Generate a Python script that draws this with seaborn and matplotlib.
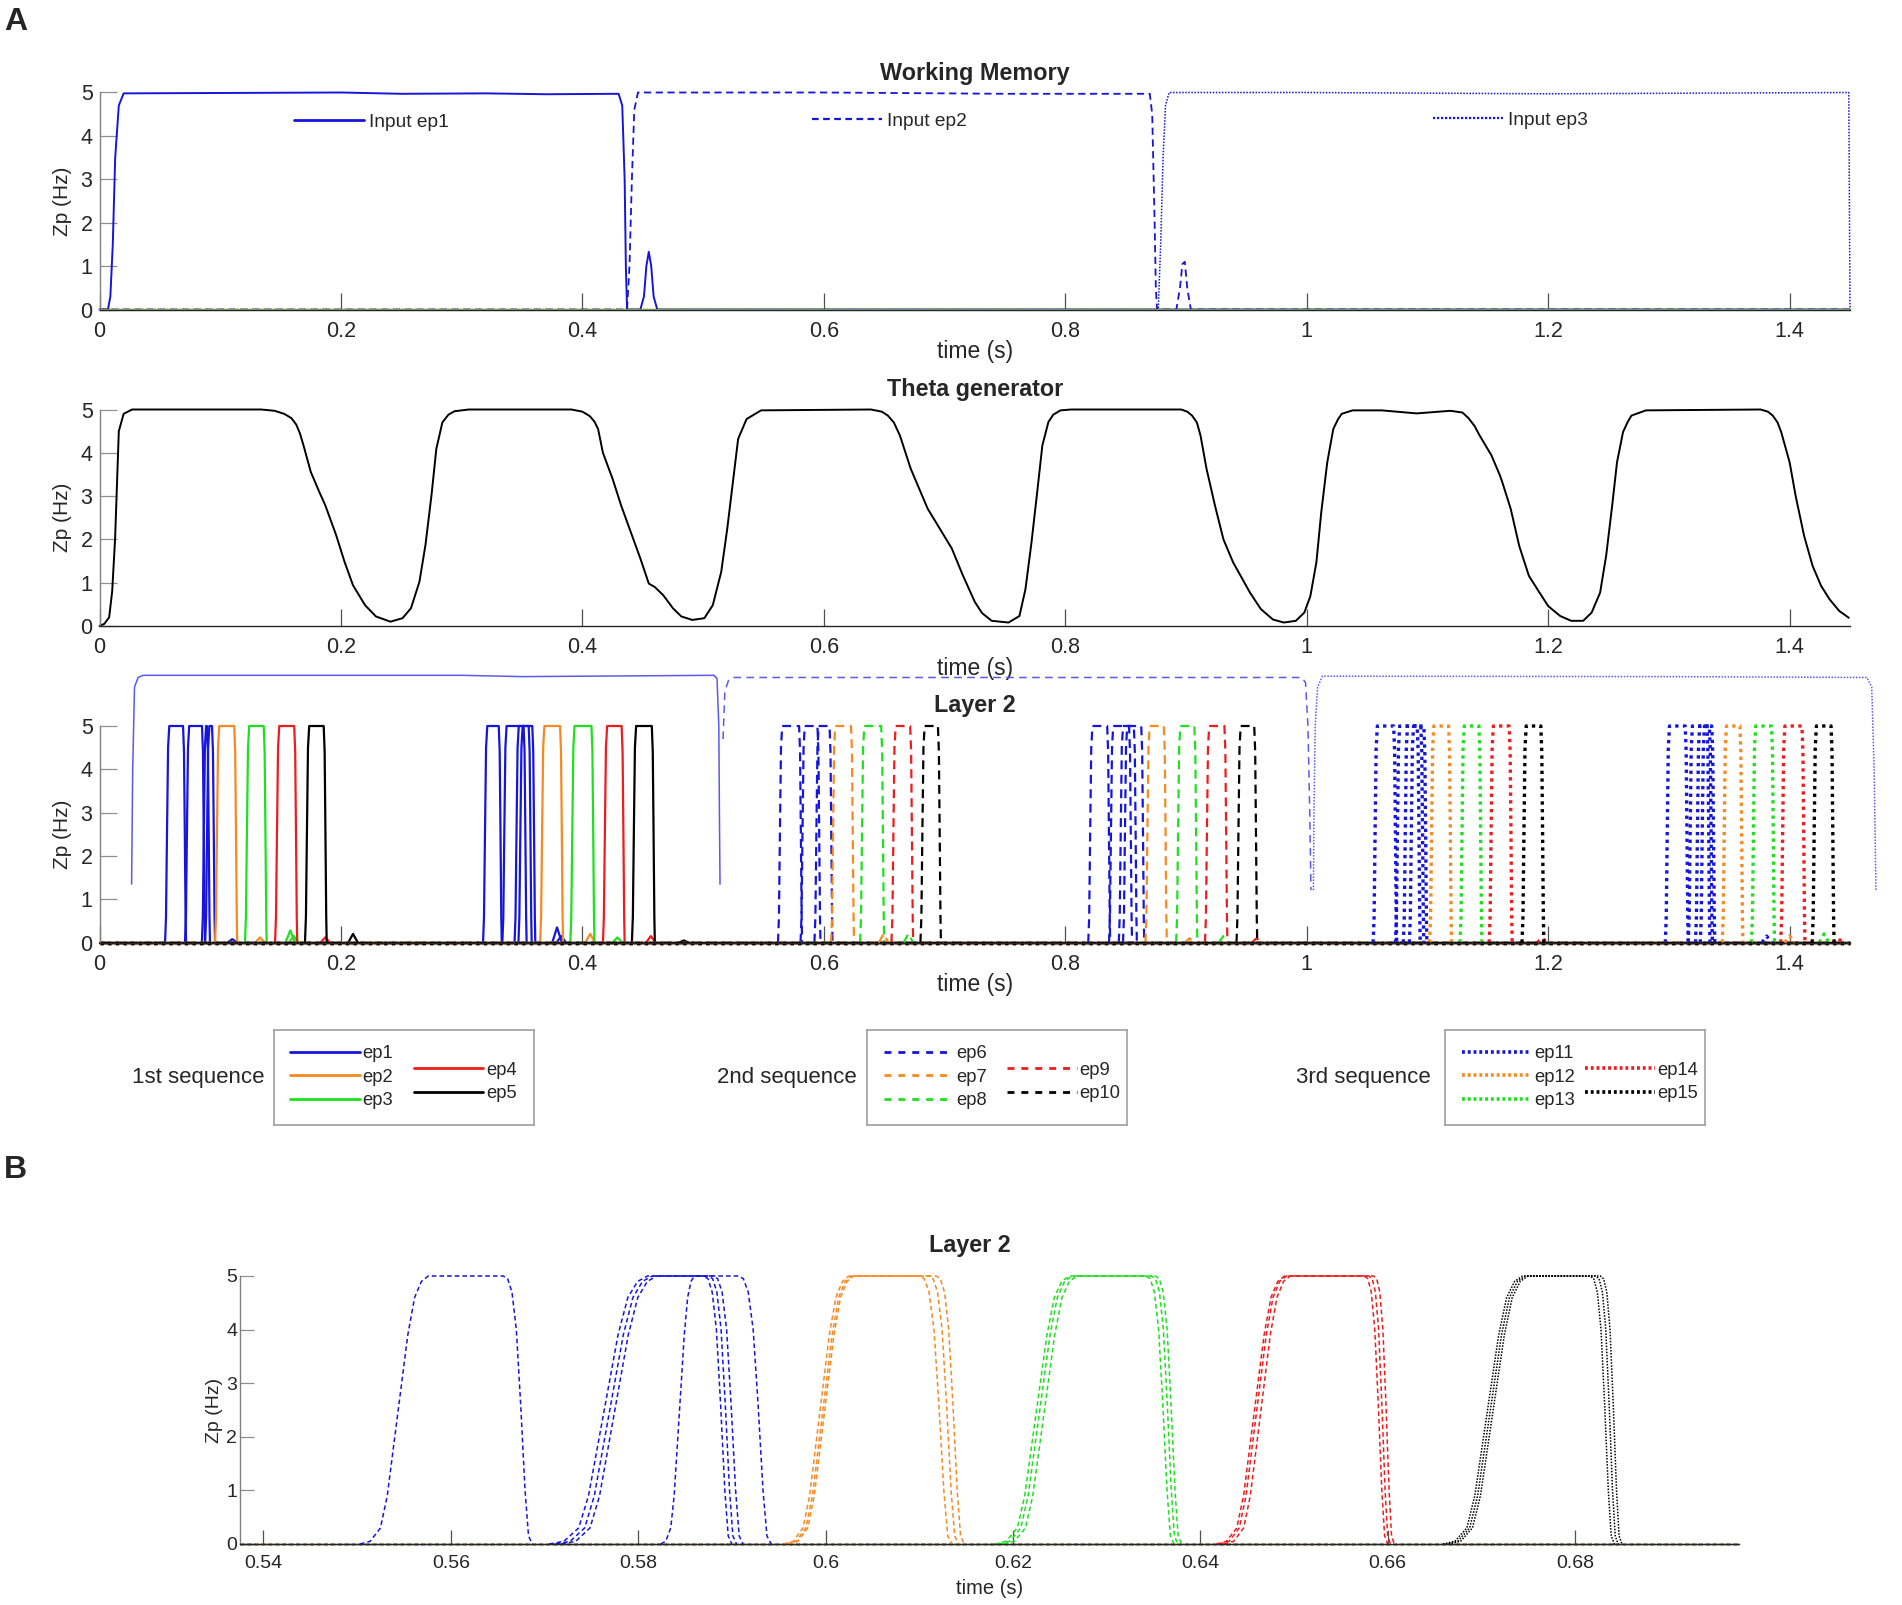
import numpy as np
import pandas as pd
import matplotlib
matplotlib.use("Agg")
import matplotlib.pyplot as plt
from matplotlib.lines import Line2D
import seaborn as sns

sns.set_style("white")
plt.rcParams['font.family'] = ['Liberation Sans', 'DejaVu Sans']

W, H = 1902, 1605

# colours (MATLAB-like)
BLUE = '#1515dc'
ORANGE = '#f58a22'
GREEN = '#1fe01f'
RED = '#ee1c1c'
BLACK = '#000000'
BRACKET = '#5a5aeb'
EP_COLORS = [BLUE, ORANGE, GREEN, RED, BLACK]

# ---------------- Working memory inputs ----------------
wm_ep1_t = [0, 0.007, 0.009, 0.011, 0.013, 0.016, 0.02, 0.2, 0.25, 0.32, 0.37, 0.43,
            0.433, 0.435, 0.436, 0.437, 0.448, 0.451, 0.453, 0.455, 0.457, 0.459, 0.462, 1.45]
wm_ep1_z = [0, 0, 0.3, 1.5, 3.5, 4.7, 4.98, 5.0, 4.97, 4.98, 4.96, 4.97,
            4.7, 3.0, 1.0, 0, 0, 0.3, 1.0, 1.33, 1.0, 0.3, 0, 0]
wm_ep2_t = [0, 0.437, 0.439, 0.441, 0.443, 0.446, 0.6, 0.75, 0.87, 0.872, 0.874, 0.875,
            0.876, 0.892, 0.895, 0.897, 0.899, 0.901, 0.904, 1.45]
wm_ep2_z = [0, 0, 1.0, 3.0, 4.6, 5.0, 5.0, 4.97, 4.97, 4.5, 2.0, 0.5,
            0, 0, 0.5, 1.05, 1.1, 0.5, 0, 0]
wm_ep3_t = [0, 0.877, 0.879, 0.881, 0.883, 0.886, 1.0, 1.2, 1.449, 1.45]
wm_ep3_z = [0, 0, 1.5, 3.5, 4.7, 5.0, 5.0, 4.97, 5.0, 0]

# ---------------- Theta generator ----------------
theta_t = [0, 0.004, 0.008, 0.0105, 0.0129, 0.016, 0.02, 0.027, 0.134, 0.145, 0.153, 0.159,
           0.163, 0.166, 0.169, 0.175,
           0.182, 0.187, 0.196, 0.203, 0.210, 0.220, 0.229, 0.241, 0.251, 0.258, 0.265,
           0.270, 0.275, 0.279, 0.284, 0.289, 0.294, 0.306,
           0.391, 0.400, 0.406, 0.410, 0.413, 0.417, 0.425, 0.432, 0.441, 0.448, 0.455, 0.46,
           0.467, 0.475, 0.482, 0.491, 0.501, 0.508, 0.515, 0.52, 0.525, 0.529, 0.536, 0.548,
           0.639, 0.648, 0.653, 0.658, 0.663, 0.672, 0.686, 0.691, 0.701, 0.706, 0.715, 0.725,
           0.731, 0.739, 0.753, 0.762, 0.767, 0.772, 0.777, 0.781, 0.786, 0.79, 0.796, 0.805,
           0.896, 0.901, 0.905, 0.909, 0.912, 0.917, 0.924, 0.931, 0.939, 0.946, 0.953, 0.962,
           0.972, 0.981, 0.991, 0.998, 1.003, 1.008, 1.012, 1.017, 1.022, 1.026, 1.029, 1.038,
           1.062, 1.091, 1.119, 1.129, 1.134, 1.139, 1.143, 1.153, 1.16, 1.162, 1.169, 1.176,
           1.184, 1.191, 1.2, 1.21, 1.219, 1.229, 1.236, 1.243, 1.248, 1.253, 1.257, 1.262,
           1.266, 1.269, 1.281,
           1.376, 1.382, 1.386, 1.39, 1.393, 1.4, 1.405, 1.412, 1.419, 1.426, 1.433, 1.441,
           1.449]
theta_z = [0, 0.05, 0.2, 0.8, 2.0, 4.5, 4.9, 5.0, 5.0, 4.97, 4.9, 4.8,
           4.65, 4.45, 4.17, 3.56,
           3.1, 2.79, 2.1, 1.48, 0.94, 0.48, 0.22, 0.1, 0.18, 0.41, 1.02,
           1.87, 3.02, 4.09, 4.7, 4.88, 4.96, 5.0,
           5.0, 4.95, 4.85, 4.72, 4.55, 4.0, 3.4, 2.79, 2.1, 1.56, 0.98, 0.9,
           0.71, 0.41, 0.22, 0.14, 0.18, 0.48, 1.25, 2.25, 3.4, 4.32, 4.78, 4.98,
           5.0, 4.95, 4.86, 4.7, 4.4, 3.63, 2.71, 2.48, 2.02, 1.79, 1.18, 0.56,
           0.3, 0.12, 0.08, 0.23, 0.85, 1.93, 3.16, 4.17, 4.71, 4.88, 4.98, 5.0,
           5.0, 4.95, 4.86, 4.7, 4.4, 3.63, 2.78, 2.0, 1.47, 1.12, 0.77, 0.39,
           0.15, 0.08, 0.12, 0.31, 0.69, 1.47, 2.62, 3.78, 4.55, 4.78, 4.9, 4.98,
           4.98, 4.91, 4.97, 4.93, 4.8, 4.62, 4.41, 3.94, 3.48, 3.32, 2.7, 1.85,
           1.16, 0.85, 0.46, 0.23, 0.12, 0.12, 0.31, 0.77, 1.62, 2.78, 3.78, 4.48,
           4.72, 4.86, 4.98,
           5.0, 4.95, 4.86, 4.7, 4.48, 3.78, 3.0, 2.08, 1.39, 0.93, 0.62, 0.35,
           0.19]

# ---------------- Layer 2 (panel A) : pulses (rise foot, fall foot) ----------------
ep1 = [(0.0543, 0.0717), (0.0708, 0.0874), (0.0848, 0.0915), (0.0875, 0.0957),
       (0.3177, 0.3332), (0.3337, 0.3538), (0.3438, 0.358), (0.347, 0.361)]
ep2 = [(0.0957, 0.1141), (0.365, 0.384)]
ep3 = [(0.1205, 0.1385), (0.390, 0.410)]
ep4 = [(0.1454, 0.1638), (0.417, 0.435)]
ep5 = [(0.1702, 0.1882), (0.441, 0.460)]
ep6 = [(0.562, 0.582), (0.5807, 0.5972), (0.5922, 0.6072),
       (0.819, 0.8372), (0.8362, 0.8553), (0.8443, 0.8593), (0.8478, 0.8654)]
ep7 = [(0.606, 0.625), (0.8664, 0.8841)]
ep8 = [(0.630, 0.650), (0.8918, 0.9094)]
ep9 = [(0.656, 0.674), (0.9157, 0.9343)]
ep10 = [(0.680, 0.697), (0.9418, 0.959)]
ep11 = [(1.055, 1.0745), (1.0735, 1.094), (1.080, 1.097), (1.085, 1.0995),
        (1.297, 1.316), (1.316, 1.334), (1.322, 1.336), (1.326, 1.338)]
ep12 = [(1.1018, 1.12), (1.3442, 1.3613)]
ep13 = [(1.127, 1.1451), (1.3684, 1.3875)]
ep14 = [(1.1511, 1.1702), (1.3926, 1.4127)]
ep15 = [(1.1783, 1.1964), (1.4187, 1.4368)]

# small bumps (centre, height)
ep1_b = [(0.110, 0.08), (0.379, 0.35), (0.3825, 0.15)]
ep2_b = [(0.133, 0.12), (0.4065, 0.2)]
ep3_b = [(0.158, 0.28), (0.161, 0.15), (0.429, 0.12)]
ep4_b = [(0.187, 0.12), (0.4567, 0.15)]
ep5_b = [(0.210, 0.2), (0.484, 0.05)]
ep7_b = [(0.6495, 0.2), (0.903, 0.1)]
ep8_b = [(0.670, 0.2), (0.931, 0.15)]
ep9_b = [(0.9585, 0.1)]
ep11_b = [(1.381, 0.15)]
ep12_b = [(1.40, 0.15)]
ep13_b = [(1.4285, 0.2)]
ep14_b = [(1.195, 0.1), (1.44, 0.1)]

seq1 = [(ep1, ep1_b), (ep2, ep2_b), (ep3, ep3_b), (ep4, ep4_b), (ep5, ep5_b)]
seq2 = [(ep6, []), (ep7, ep7_b), (ep8, ep8_b), (ep9, ep9_b), (ep10, [])]
seq3 = [(ep11, ep11_b), (ep12, ep12_b), (ep13, ep13_b), (ep14, ep14_b), (ep15, [])]

# pulse edge shape
rise_dt = [0, 0.0008, 0.0016, 0.0025, 0.0035]
rise_z = [0, 0.6, 2.5, 4.5, 5.0]
fall_dt = [0.0025, 0.0017, 0.001, 0.0004, 0]
fall_z = [5.0, 4.4, 2.4, 0.6, 0]
bump_dt = [-0.004, -0.002, 0, 0.002, 0.004]
bump_k = [0, 0.5, 1, 0.5, 0]

# input brackets drawn above layer 2
br1_t = [0.0266, 0.0275, 0.029, 0.032, 0.036, 0.3, 0.35, 0.509, 0.5115, 0.513, 0.5135, 0.514]
br1_z = [1.35, 4.0, 5.9, 6.12, 6.17, 6.17, 6.14, 6.17, 6.1, 5.0, 3.0, 1.35]
br2_t = [0.5165, 0.518, 0.521, 0.525, 0.8, 0.996, 0.999, 1.001, 1.0025, 1.0035]
br2_z = [4.7, 5.8, 6.05, 6.12, 6.12, 6.12, 6.0, 5.0, 3.0, 1.21]
br3_t = [1.0055, 1.006, 1.007, 1.009, 1.013, 1.3, 1.464, 1.468, 1.470, 1.4715]
br3_z = [1.21, 3.0, 5.0, 5.9, 6.15, 6.14, 6.12, 5.9, 4.0, 1.21]

# ---------------- Layer 2 (panel B) : (foot on, top on, top off, foot off) ----------------
b_blue = [(0.5503, 0.5576, 0.5656, 0.5687), (0.5705, 0.5810, 0.5870, 0.5900),
          (0.5712, 0.5815, 0.5875, 0.5905), (0.5718, 0.5820, 0.5880, 0.5912),
          (0.5824, 0.5860, 0.5907, 0.5942)]
b_orange = [(0.5955, 0.6025, 0.6100, 0.6135), (0.5958, 0.6028, 0.6110, 0.6142),
            (0.5960, 0.6030, 0.6118, 0.6148)]
b_green = [(0.6181, 0.6260, 0.6342, 0.6372), (0.6185, 0.6263, 0.6348, 0.6376),
           (0.6190, 0.6268, 0.6352, 0.6380)]
b_red = [(0.6417, 0.6490, 0.6575, 0.6600), (0.6420, 0.6492, 0.6580, 0.6603),
         (0.6425, 0.6496, 0.6585, 0.6607)]
b_black = [(0.6659, 0.6744, 0.6816, 0.6842), (0.6662, 0.6747, 0.6822, 0.6846),
           (0.6665, 0.6750, 0.6827, 0.6850)]
b_rise_f = [0, 0.15, 0.3, 0.4, 0.5, 0.6, 0.7, 0.8, 0.9, 1.0]
b_rise_z = [0, 0.05, 0.3, 0.9, 1.9, 2.9, 3.9, 4.6, 4.9, 5.0]
b_fall_f = [0, 0.15, 0.3, 0.45, 0.6, 0.75, 0.87, 1.0]
b_fall_z = [5.0, 4.95, 4.7, 4.0, 2.6, 1.0, 0.15, 0]

A_XTICKS = [0, 0.2, 0.4, 0.6, 0.8, 1.0, 1.2, 1.4]
A_XLABELS = ['0', '0.2', '0.4', '0.6', '0.8', '1', '1.2', '1.4']
B_XTICKS = [0.54, 0.56, 0.58, 0.60, 0.62, 0.64, 0.66, 0.68]
B_XLABELS = ['0.54', '0.56', '0.58', '0.6', '0.62', '0.64', '0.66', '0.68']
YTICKS = [0, 1, 2, 3, 4, 5]

# line styles
DASH = (0, (4, 2.5))
DOT = (0, (1, 1.3))


def draw(ax, t, z, color, lw, ls='-'):
    sns.lineplot(x=list(t), y=list(z), ax=ax, color=color, linewidth=lw, linestyle=ls,
                 sort=False, estimator=None, errorbar=None, legend=False, clip_on=False)


def add_axes_px(left, top, right, bottom):
    return fig.add_axes([left / W, 1 - bottom / H, (right - left) / W, (bottom - top) / H])


def style_axes(ax, xlim, xticks, xlabels, fs, tlen, xpad, ypad):
    ax.set_xlim(*xlim)
    ax.set_ylim(0, 5)
    ax.set_xticks(xticks)
    ax.set_xticklabels(xlabels)
    ax.set_yticks(YTICKS)
    ax.set_yticklabels([str(v) for v in YTICKS])
    for s in ['top', 'right']:
        ax.spines[s].set_visible(False)
    ax.spines['left'].set_color('#808080')
    ax.spines['bottom'].set_color('#262626')
    ax.spines['left'].set_linewidth(1.0)
    ax.spines['bottom'].set_linewidth(1.0)
    ax.tick_params(axis='x', bottom=True, direction='in', length=tlen, width=0.9,
                   color='#505050', labelsize=fs, pad=xpad, labelcolor='#262626')
    ax.tick_params(axis='y', left=True, direction='in', length=tlen, width=0.9,
                   color='#909090', labelsize=fs, pad=ypad, labelcolor='#262626')
    ax.patch.set_alpha(0)


fig = plt.figure(figsize=(W / 100, H / 100), dpi=100)

ax1 = add_axes_px(99.5, 92.5, 1850, 309.5)
ax2 = add_axes_px(99.5, 409.5, 1850, 626)
ax3 = add_axes_px(99.5, 726, 1850, 942.6)
axb = add_axes_px(240, 1276, 1739, 1544)

TITLE_FS = 16.8
LAB_FS = 16.5
TICK_FS = 15.5
YLAB_FS = 15

# --- A1: working memory
draw(ax1, wm_ep1_t, wm_ep1_z, BLUE, 1.4)
draw(ax1, wm_ep2_t, wm_ep2_z, BLUE, 1.3, (0, (4, 2.5)))
draw(ax1, wm_ep3_t, wm_ep3_z, BLUE, 1.1, (0, (1, 1)))
draw(ax1, [0, 1.45], [0, 0], '#86b83a', 1.5)
style_axes(ax1, (0, 1.45), A_XTICKS, A_XLABELS, TICK_FS, 12.5, 8, 5)
ax1.set_title('Working Memory', fontsize=TITLE_FS, fontweight='bold', pad=9)
ax1.set_xlabel('time (s)', fontsize=LAB_FS, labelpad=-1)
ax1.set_ylabel('Zp (Hz)', fontsize=YLAB_FS, labelpad=6)

# --- A2: theta generator
draw(ax2, theta_t, theta_z, BLACK, 1.4)
style_axes(ax2, (0, 1.45), A_XTICKS, A_XLABELS, TICK_FS, 12.5, 8, 5)
ax2.set_title('Theta generator', fontsize=TITLE_FS, fontweight='bold', pad=10)
ax2.set_xlabel('time (s)', fontsize=LAB_FS, labelpad=-1)
ax2.set_ylabel('Zp (Hz)', fontsize=YLAB_FS, labelpad=6)

# --- A3: layer 2
for seq, ls, lw in [(seq1, '-', 1.6), (seq2, DASH, 1.6), (seq3, DOT, 2.4)]:
    for (pulses, bumps), col in zip(seq, EP_COLORS):
        draw(ax3, [0, 1.45], [0, 0], col, lw, ls)
        for on, off in pulses:
            t = [on + d for d in rise_dt] + [off - d for d in fall_dt]
            draw(ax3, t, rise_z + fall_z, col, lw, ls)
        for c, h in bumps:
            draw(ax3, [c + d for d in bump_dt], [h * k for k in bump_k], col, lw, ls)

draw(ax3, br1_t, br1_z, BRACKET, 1.1)
draw(ax3, br2_t, br2_z, BRACKET, 1.1, (0, (5, 3.5)))
draw(ax3, br3_t, br3_z, BRACKET, 1.1, (0, (1, 1)))
style_axes(ax3, (0, 1.45), A_XTICKS, A_XLABELS, TICK_FS, 12.5, 8, 5)
ax3.set_title('Layer 2', fontsize=TITLE_FS, fontweight='bold', pad=10)
ax3.set_xlabel('time (s)', fontsize=LAB_FS, labelpad=-1)
ax3.set_ylabel('Zp (Hz)', fontsize=YLAB_FS, labelpad=6)

# --- B: zoom on layer 2
b_lim = (0.5375, 0.6975)
b_groups = [(b_blue, BLUE, (0, (3, 2))), (b_orange, ORANGE, (0, (3, 2))),
            (b_green, GREEN, (0, (3, 2))), (b_red, RED, (0, (3, 2))),
            (b_black, BLACK, (0, (1, 1)))]
for pulses, col, ls in b_groups:
    draw(axb, list(b_lim), [0, 0], col, 1.0, ls)
for pulses, col, ls in b_groups:
    for on, top_on, top_off, off in pulses:
        t = [on + f * (top_on - on) for f in b_rise_f] + [top_off + f * (off - top_off) for f in b_fall_f]
        draw(axb, t, b_rise_z + b_fall_z, col, 1.1, ls)
style_axes(axb, b_lim, B_XTICKS, B_XLABELS, 14, 10, 8, 2)
axb.set_title('Layer 2', fontsize=TITLE_FS, fontweight='bold', pad=17, x=0.487)
axb.set_xlabel('time (s)', fontsize=14.5, labelpad=5)
axb.set_ylabel('Zp (Hz)', fontsize=14, labelpad=2)

# --- legends of panel A1
wm_styles = [('-', 2.0, 'Input ep1', 293.5, 122),
             ((0, (3, 2)), 1.6, 'Input ep2', 811.5, 121),
             ((0, (1, 0.8)), 1.6, 'Input ep3', 1432.5, 120)]
for ls, lw, lab, px, py in wm_styles:
    h = Line2D([], [], color=BLUE, lw=lw, ls=ls)
    fig.legend([h], [lab], loc='center left', bbox_to_anchor=(px / W, 1 - py / H),
               frameon=False, borderpad=0, borderaxespad=0, handlelength=3.7,
               handletextpad=0.25, fontsize=13.8)

# --- sequence legend boxes
seq_names = ['1st sequence', '2nd sequence', '3rd sequence']
ep_names = [['ep1', 'ep2', 'ep3', 'ep4', 'ep5'],
            ['ep6', 'ep7', 'ep8', 'ep9', 'ep10'],
            ['ep11', 'ep12', 'ep13', 'ep14', 'ep15']]
box_left = [273.5, 867, 1445]
seq_text_x = [198, 786.5, 1363.5]
leg_styles = [('-', 2.0), ((0, (2.5, 2.5)), 2.0), ((0, (0.8, 0.8)), 2.6)]
for i in range(3):
    bl = box_left[i]
    bax = fig.add_axes([bl / W, 1 - 1125 / H, 260 / W, 95 / H])
    bax.set_xticks([])
    bax.set_yticks([])
    for s in bax.spines.values():
        s.set_color('#a0a0a0')
        s.set_linewidth(1.2)
    fig.text(seq_text_x[i] / W, 1 - 1078 / H, seq_names[i], ha='center', va='center',
             fontsize=16)
    ls, lw = leg_styles[i]
    hs = [Line2D([], [], color=c, lw=lw, ls=ls) for c in EP_COLORS]
    fig.legend(hs[:3], ep_names[i][:3], loc='center left',
               bbox_to_anchor=((bl + 16.5) / W, 1 - 1077 / H), frameon=False,
               borderpad=0, borderaxespad=0, handlelength=3.8, handletextpad=0.15,
               labelspacing=0.35, fontsize=13.2)
    fig.legend(hs[3:], ep_names[i][3:], loc='center left',
               bbox_to_anchor=((bl + 140) / W, 1 - 1082 / H), frameon=False,
               borderpad=0, borderaxespad=0, handlelength=3.8, handletextpad=0.15,
               labelspacing=0.35, fontsize=13.2)

# panel letters
fig.text(4 / W, 1 - 22 / H, 'A', fontsize=23, fontweight='bold', va='center')
fig.text(4 / W, 1 - 1170 / H, 'B', fontsize=23, fontweight='bold', va='center')

fig.savefig('out.png', dpi=100)
